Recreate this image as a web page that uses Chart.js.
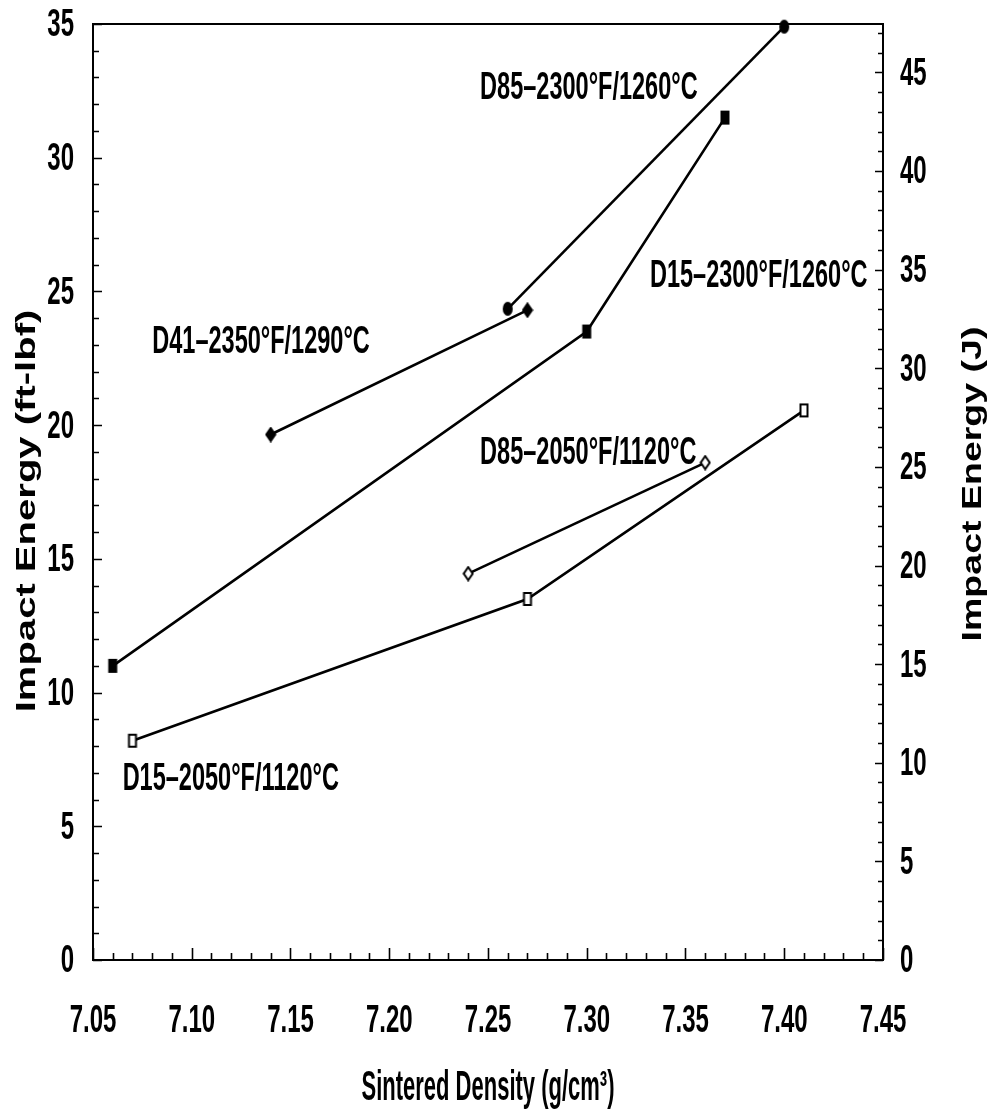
<!DOCTYPE html>
<html>
<head>
<meta charset="utf-8">
<script src="https://cdn.jsdelivr.net/npm/chart.js@4.4.1/dist/chart.umd.min.js"></script>
<style>
  html, body { margin: 0; padding: 0; background: #ffffff; }
  #wrap { width: 995px; height: 1120px; }
</style>
</head>
<body>
<div id="wrap"><canvas id="chart" width="995" height="1120"></canvas></div>
<script>
// ---- Series: sintered density (g/cm³) vs. impact energy (ft-lbf) ----
const seriesNames = [
  'D85–2300°F/1260°C',
  'D41–2350°F/1290°C',
  'D15–2300°F/1260°C',
  'D85–2050°F/1120°C',
  'D15–2050°F/1120°C'
];

const d85HighDensity = [7.26, 7.40];
const d85HighEnergy  = [24.35, 34.9];

const d41Density = [7.14, 7.27];
const d41Energy  = [19.65, 24.3];

const d15HighDensity = [7.06, 7.30, 7.37];
const d15HighEnergy  = [11.0, 23.5, 31.5];

const d85LowDensity = [7.24, 7.36];
const d85LowEnergy  = [14.45, 18.6];

const d15LowDensity = [7.07, 7.27, 7.41];
const d15LowEnergy  = [8.2, 13.5, 20.55];

// ---- Axis ticks ----
const densityTicks   = [7.05, 7.10, 7.15, 7.20, 7.25, 7.30, 7.35, 7.40, 7.45];
const densityLabels  = ['7.05', '7.10', '7.15', '7.20', '7.25', '7.30', '7.35', '7.40', '7.45'];
const ftlbfTicks     = [0, 5, 10, 15, 20, 25, 30, 35];
const jouleTicks     = [0, 5, 10, 15, 20, 25, 30, 35, 40, 45];

const FTLBF_TO_J = 1.35582;

// Series label anchors (left edge, vertical middle) in data units
const labelDensity = [7.246, 7.080, 7.332, 7.246, 7.065];
const labelEnergy  = [32.6, 23.1, 25.55, 18.95, 6.75];

// ---- Marker glyphs (slightly tall, like the printed figure) ----
function marker(shape, filled) {
  const w = 12, h = 16;
  const c = document.createElement('canvas');
  c.width = w; c.height = h;
  const g = c.getContext('2d');
  g.lineWidth = 2;
  g.strokeStyle = '#000';
  g.fillStyle = filled ? '#000' : '#fff';
  g.beginPath();
  if (shape === 'square') {
    g.rect(2.5, 2, 7, 12);
  } else if (shape === 'circle') {
    g.ellipse(6, 8, 4, 6, 0, 0, Math.PI * 2);
  } else if (shape === 'diamond') {
    g.moveTo(6, 1.5); g.lineTo(10.5, 8); g.lineTo(6, 14.5); g.lineTo(1.5, 8); g.closePath();
  }
  g.fill();
  g.stroke();
  return c;
}

function pts(xs, ys) { return xs.map((x, i) => ({ x: x, y: ys[i] })); }

function series(i, xs, ys, glyph) {
  return {
    label: seriesNames[i],
    data: pts(xs, ys),
    borderColor: '#000',
    backgroundColor: '#000',
    borderWidth: 2.6,
    pointStyle: glyph,
    pointRadius: 6,
    pointHoverRadius: 6,
    tension: 0,
    clip: false
  };
}

// Stretched text helper (tall, condensed lettering)
function drawText(ctx, text, x, y, font, sx, sy, align, rotate) {
  ctx.save();
  ctx.translate(x, y);
  if (rotate) ctx.rotate(rotate);
  ctx.scale(sx, sy);
  ctx.font = font;
  ctx.fillStyle = '#000';
  ctx.textAlign = align;
  ctx.textBaseline = 'middle';
  ctx.fillText(text, 0, 0);
  ctx.restore();
}

const TICK_FONT = 'bold 24px "Liberation Sans", Arial, sans-serif';
const LABEL_FONT = 'bold 24px "Liberation Sans", Arial, sans-serif';
const TITLE_FONT = 'bold 28px "Liberation Sans", Arial, sans-serif';

const framePlugin = {
  id: 'frameTicks',
  beforeDatasetsDraw(chart) {
    const ctx = chart.ctx;
    const a = chart.chartArea;
    const xs = chart.scales.x, yl = chart.scales.y, yr = chart.scales.yJ;
    ctx.save();
    ctx.strokeStyle = '#000';
    ctx.lineWidth = 2;
    ctx.strokeRect(a.left, a.top, a.right - a.left, a.bottom - a.top);

    ctx.lineWidth = 1.6;
    ctx.beginPath();
    // bottom: every 0.01 g/cm³, longer at each 0.05
    for (let i = 0; i <= 40; i++) {
      const px = Math.round(xs.getPixelForValue(7.05 + i * 0.01)) + 0.5;
      const len = (i % 5 === 0) ? 12 : 7;
      ctx.moveTo(px, a.bottom);
      ctx.lineTo(px, a.bottom - len);
    }
    // left: every 1 ft-lbf
    for (let v = 0; v <= 35; v++) {
      const py = Math.round(yl.getPixelForValue(v)) + 0.5;
      const len = (v % 5 === 0) ? 9 : 6;
      ctx.moveTo(a.left, py);
      ctx.lineTo(a.left + len, py);
    }
    // right: every 1 J
    for (let v = 0; v <= 47; v++) {
      const py = Math.round(yr.getPixelForValue(v)) + 0.5;
      const len = (v % 5 === 0) ? 8 : 5;
      ctx.moveTo(a.right, py);
      ctx.lineTo(a.right - len, py);
    }
    ctx.stroke();
    ctx.restore();
  },
  afterDatasetsDraw(chart) {
    const ctx = chart.ctx;
    const a = chart.chartArea;
    const xs = chart.scales.x, yl = chart.scales.y, yr = chart.scales.yJ;

    densityTicks.forEach((v, i) => {
      drawText(ctx, densityLabels[i], xs.getPixelForValue(v), a.bottom + 62, TICK_FONT, 1, 1.58, 'center');
    });
    ftlbfTicks.forEach(v => {
      drawText(ctx, String(v), a.left - 19, yl.getPixelForValue(v) + 2, TICK_FONT, 1, 1.58, 'right');
    });
    jouleTicks.forEach(v => {
      drawText(ctx, String(v), a.right + 17, yr.getPixelForValue(v) + 2, TICK_FONT, 1, 1.58, 'left');
    });

    seriesNames.forEach((name, i) => {
      drawText(ctx, name, xs.getPixelForValue(labelDensity[i]), yl.getPixelForValue(labelEnergy[i]),
        LABEL_FONT, 0.98, 1.58, 'left');
    });

    drawText(ctx, 'Sintered Density (g/cm³)', (a.left + a.right) / 2, a.bottom + 128,
      'bold 22px "Liberation Sans", Arial, sans-serif', 1, 1.9, 'center');
    drawText(ctx, 'Impact Energy (ft-lbf)', 27, 511, TITLE_FONT, 1.43, 1, 'center', -Math.PI / 2);
    drawText(ctx, 'Impact Energy (J)', 973, 484, TITLE_FONT, 1.34, 1, 'center', -Math.PI / 2);
  }
};

new Chart(document.getElementById('chart'), {
  type: 'line',
  data: {
    datasets: [
      series(0, d85HighDensity, d85HighEnergy, marker('circle', true)),
      series(1, d41Density, d41Energy, marker('diamond', true)),
      series(2, d15HighDensity, d15HighEnergy, marker('square', true)),
      series(3, d85LowDensity, d85LowEnergy, marker('diamond', false)),
      series(4, d15LowDensity, d15LowEnergy, marker('square', false))
    ]
  },
  options: {
    responsive: false,
    animation: false,
    devicePixelRatio: 1,
    layout: { padding: { left: 93, top: 24, right: 112, bottom: 160 } },
    plugins: { legend: { display: false }, tooltip: { enabled: false } },
    scales: {
      x: { type: 'linear', min: 7.05, max: 7.45, display: false },
      y: { type: 'linear', position: 'left', min: 0, max: 35, display: false },
      yJ: { type: 'linear', position: 'right', min: 0, max: 35 * FTLBF_TO_J, display: false }
    }
  },
  plugins: [framePlugin]
});
</script>
</body>
</html>
